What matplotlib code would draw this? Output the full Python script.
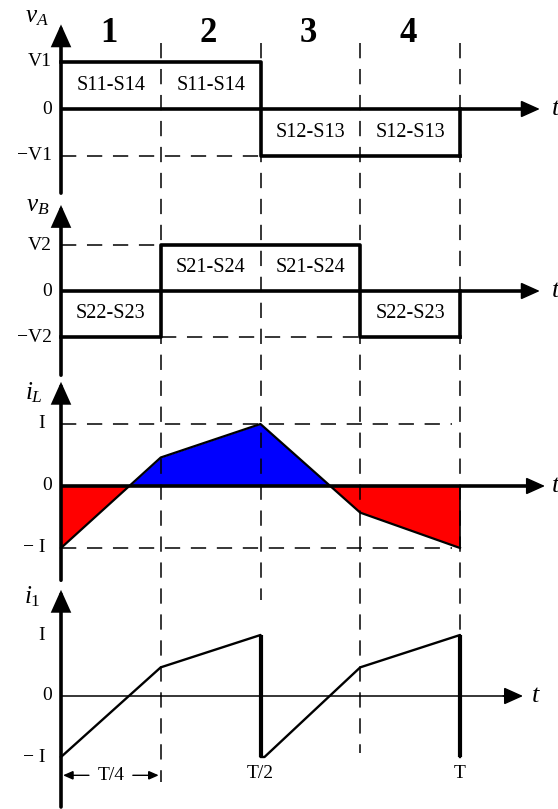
import matplotlib
matplotlib.use('Agg')
import matplotlib.pyplot as plt
import numpy as np

plt.rcParams['font.family'] = 'Liberation Serif'
plt.rcParams['mathtext.fontset'] = 'custom'
plt.rcParams['mathtext.rm'] = 'Liberation Serif'
plt.rcParams['mathtext.it'] = 'Liberation Serif:italic'

# one switching period T (=1), split into four intervals
t_edges = [0, 0.25, 0.5, 0.75, 1.0]
interval_names = ['1', '2', '3', '4']

# bridge output voltages per interval (per unit) and the conducting switches
v_a = [1, 1, -1, -1]
v_b = [-1, 1, 1, -1]
switches_a = ['S11-S14', 'S11-S14', 'S12-S13', 'S12-S13']
switches_b = ['S22-S23', 'S21-S24', 'S21-S24', 'S22-S23']

# inductor current at the interval edges (per unit)
i_l = [-1, 0.46, 1, -0.43, -1]

# input current, with the jumps at T/2 and T
t_i1 = [0, 0.25, 0.5, 0.5, 0.51, 0.75, 1.0, 1.0]
i_1 = [-1, 0.47, 1, -1, -1, 0.47, 1, -1]

ticks_a = ['V1', '0', '−V1']
ticks_b = ['V2', '0', '−V2']
ticks_i = ['I', '0', '− I']
tick_vals = [1, 0, -1]

W, H = 558, 809
fig = plt.figure(figsize=(W / 100, H / 100), dpi=100)
X0, X1 = 61, 460
xlim = (-X0 / (X1 - X0), (W - X0) / (X1 - X0))

LW = 2.6
DASH = dict(color='k', lw=1.1, linestyle=(0, (10, 7)))


def panel(top, bottom, zero, amp):
    ax = fig.add_axes([0, 1 - bottom / H, 1, (bottom - top) / H])
    ax.set_xlim(xlim)
    ax.set_ylim((zero - bottom) / amp, (zero - top) / amp)
    ax.axis('off')
    return ax


def arrow(ax, start, end, lw=LW, hl=0.6, hw=0.27, ms=20):
    ax.annotate('', xy=end, xytext=start,
                arrowprops=dict(arrowstyle='-|>,head_length=%g,head_width=%g' % (hl, hw),
                                mutation_scale=ms, lw=lw, color='k',
                                shrinkA=0, shrinkB=0, joinstyle='miter'),
                annotation_clip=False)


def axes_frame(ax, y_bot, y_top, t_end, label, label_y, label_x=-0.03,
               t_x=1.23, zero_lw=LW):
    arrow(ax, (0, y_bot), (0, y_top))
    ax.plot([0, t_end - 0.03], [0, 0], color='k', lw=zero_lw, solid_capstyle='butt')
    arrow(ax, (t_end - 0.05, 0), (t_end, 0), lw=1)
    ax.text(t_x, 0, 't', style='italic', fontsize=19, ha='left', va='center')
    ax.text(label_x, label_y, label, fontsize=18, ha='right', va='center')


def ticks(ax, labels, x=-0.023):
    for v, s in zip(tick_vals, labels):
        ax.text(x, v, s, fontsize=14, ha='right', va='center')


mids = [(a + b) / 2 for a, b in zip(t_edges[:-1], t_edges[1:])]

# ---- v_A ----
ax1 = panel(0, 195, 109, 47)
axes_frame(ax1, -1.79, 1.8, 1.2, r'$v_A$', 1.95)
ticks(ax1, ticks_a)
ax1.step(t_edges, v_a + [v_a[-1]], where='post', color='k', lw=LW)
ax1.plot([t_edges[-1]] * 2, [v_a[-1], 0], color='k', lw=LW)
ax1.hlines(-1, 0, 0.5, **DASH)
for m, v, s, n in zip(mids, v_a, switches_a, interval_names):
    ax1.text(m, v / 2, s, fontsize=14.5, ha='center', va='center')
    ax1.text(m - 0.005, 1.6, n, fontsize=25, fontweight='bold', ha='center', va='center')

# ---- v_B ----
ax2 = panel(195, 372, 291, 46)
axes_frame(ax2, -1.83, 1.87, 1.2, r'$v_B$', 1.85)
ticks(ax2, ticks_b)
ax2.step(t_edges, v_b + [v_b[-1]], where='post', color='k', lw=LW)
ax2.plot([t_edges[-1]] * 2, [v_b[-1], 0], color='k', lw=LW)
ax2.hlines(1, 0, 0.25, **DASH)
ax2.hlines(-1, 0.25, 0.75, **DASH)
for m, v, s in zip(mids, v_b, switches_b):
    ax2.text(m, v / 2, s, fontsize=14.5, ha='center', va='center')

# ---- i_L ----
ax3 = panel(372, 585, 486, 62)
il = np.array(i_l)
ax3.fill_between(t_edges, il, 0, where=il >= 0, interpolate=True, color='#0000ff', lw=0)
ax3.fill_between(t_edges, il, 0, where=il <= 0, interpolate=True, color='#ff0000', lw=0)
ax3.plot(t_edges, il, color='k', lw=1.6)
ax3.plot([t_edges[-1]] * 2, [il[-1], 0], color='k', lw=1.2)
ax3.hlines([1, -1], 0, 0.98, **DASH)
axes_frame(ax3, -1.52, 1.68, 1.213, r'$i_L$', 1.5, label_x=-0.045)
ticks(ax3, ticks_i[:1], x=-0.04)
ax3.text(-0.023, 0, '0', fontsize=14, ha='right', va='center')
ax3.text(-0.04, -1, ticks_i[2], fontsize=14, ha='right', va='center')

# ---- i_1 ----
ax4 = panel(585, 809, 696, 61)
axes_frame(ax4, -1.82, 1.74, 1.158, r'$i_1$', 1.62, label_x=-0.05,
           t_x=1.18, zero_lw=1.1)
ax4.plot(t_i1, i_1, color='k', lw=1.7)
for k in range(len(t_i1) - 1):
    if t_i1[k] == t_i1[k + 1]:
        ax4.plot(t_i1[k:k + 2], i_1[k:k + 2], color='k', lw=3, solid_capstyle='butt')
ax4.text(-0.04, 1, ticks_i[0], fontsize=14, ha='right', va='center')
ax4.text(-0.023, 0, '0', fontsize=14, ha='right', va='center')
ax4.text(-0.04, -1, ticks_i[2], fontsize=14, ha='right', va='center')
ax4.text(0.5, -1.27, 'T/2', fontsize=14, ha='center', va='center')
ax4.text(1.0, -1.27, 'T', fontsize=14, ha='center', va='center')
ax4.text(0.125, -1.3, 'T/4', fontsize=14, ha='center', va='center')
arrow(ax4, (0.07, -1.3), (0.005, -1.3), lw=1, hl=0.5, hw=0.22, ms=12)
arrow(ax4, (0.18, -1.3), (0.245, -1.3), lw=1, hl=0.5, hw=0.22, ms=12)

# ---- interval boundaries running through all panels ----
guide = fig.add_axes([0, 0, 1, 1])
guide.set_xlim(xlim)
guide.set_ylim(H, 0)
guide.axis('off')
guide_ends = [782, 600, 753, 632]
for t, y_end in zip(t_edges[1:], guide_ends):
    guide.vlines(t, 43, y_end, **DASH)

fig.savefig('out.png', dpi=100, facecolor='white')
